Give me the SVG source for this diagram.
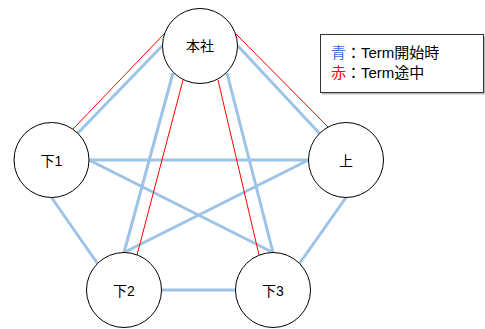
<svg xmlns="http://www.w3.org/2000/svg" width="485" height="329" viewBox="0 0 485 329">
<style>
.blue{stroke:#9dc3e6;stroke-width:3;fill:none;stroke-linecap:butt}
.red{stroke:#ff0000;stroke-width:1;fill:none}
.node{fill:#ffffff;stroke:#000000;stroke-width:1}
.lbl{font-family:"Liberation Sans","Noto Sans CJK JP",sans-serif;font-size:14px;fill:#000;text-anchor:middle}
.leg{font-family:"Liberation Sans","Noto Sans CJK JP",sans-serif;font-size:15px;fill:#000}
</style>
<rect width="485" height="329" fill="#ffffff"/>
<g id="connectors">
<line class="blue" x1="162" y1="46" x2="77" y2="134"/>
<line class="blue" x1="238" y1="46" x2="320" y2="134"/>
<line class="blue" x1="173" y1="73" x2="124" y2="252.5"/>
<line class="blue" x1="227" y1="73" x2="273" y2="252.5"/>
<line class="blue" x1="89" y1="160" x2="308.5" y2="160"/>
<line class="blue" x1="89" y1="160" x2="273" y2="252.5"/>
<line class="blue" x1="308.5" y1="160" x2="124" y2="252.5"/>
<line class="blue" x1="51.5" y1="197.5" x2="97.5" y2="263.5"/>
<line class="blue" x1="346" y1="197.5" x2="299.5" y2="263.5"/>
<line class="blue" x1="161.5" y1="290" x2="235.5" y2="290"/>
<line class="red" x1="164" y1="34" x2="73" y2="129"/>
<line class="red" x1="236" y1="34" x2="328" y2="127"/>
<line class="red" x1="183" y1="80" x2="137" y2="255"/>
<line class="red" x1="218" y1="80" x2="259" y2="255"/>
</g>
<g id="honsha"><circle class="node" cx="200" cy="46" r="37.5"/><text class="lbl" x="200" y="51">本社</text></g>
<g id="shita1"><circle class="node" cx="51.5" cy="160" r="37.5"/><text class="lbl" x="51.5" y="166">下1</text></g>
<g id="ue"><circle class="node" cx="346" cy="160" r="37.5"/><text class="lbl" x="346" y="166">上</text></g>
<g id="shita2"><circle class="node" cx="124" cy="290" r="37.5"/><text class="lbl" x="124" y="296">下2</text></g>
<g id="shita3"><circle class="node" cx="273" cy="290" r="37.5"/><text class="lbl" x="273" y="296">下3</text></g>
<g id="legend">
<rect x="322" y="36.5" width="163" height="58" fill="#bbbbbb"/>
<rect x="320.5" y="34.5" width="163" height="58" fill="#ffffff" stroke="#333333" stroke-width="1"/>
<text class="leg" x="331" y="58"><tspan fill="#3d6fd6">青</tspan>：Term開始時</text>
<text class="leg" x="331" y="78"><tspan fill="#ff0000">赤</tspan>：Term途中</text>
</g>
</svg>
